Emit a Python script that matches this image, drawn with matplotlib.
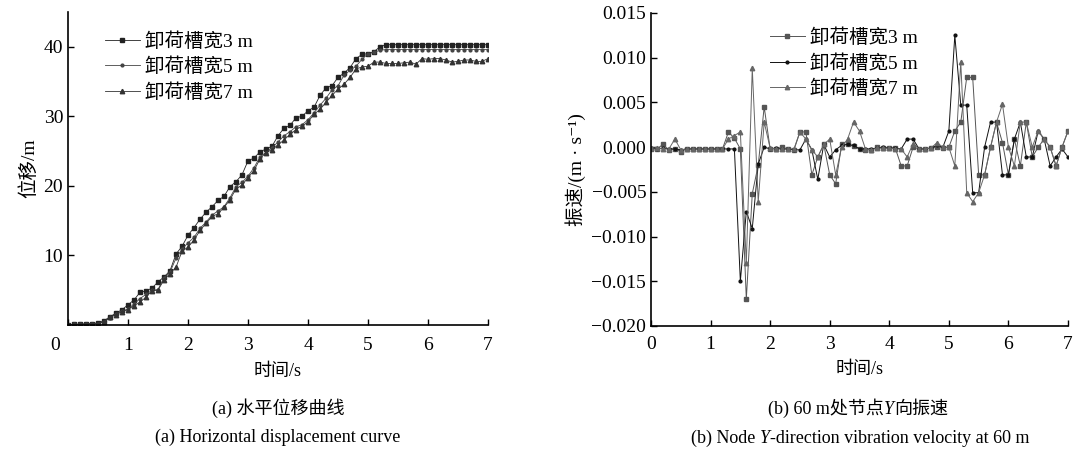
import numpy as np
import matplotlib
matplotlib.use("Agg")
import matplotlib.pyplot as plt
from matplotlib.ticker import FuncFormatter

plt.rcParams['font.family'] = ['Liberation Serif', 'DejaVu Serif', 'Noto Sans CJK SC']
plt.rcParams['axes.unicode_minus'] = True

# time axis, 0.1 s step
t = np.round(np.arange(71) * 0.1, 1)
labels = ['卸荷槽宽3 m', '卸荷槽宽5 m', '卸荷槽宽7 m']

# (a) horizontal displacement, m
disp_3 = [0.0, 0.1, 0.1, 0.2, 0.2, 0.3, 0.6, 1.2, 1.7, 2.2,
          2.9, 3.6, 4.7, 4.9, 5.3, 6.2, 6.9, 7.8, 10.2, 11.3,
          12.9, 14.0, 15.2, 16.2, 17.0, 17.9, 18.5, 19.9, 20.6, 21.6,
          23.6, 24.0, 24.9, 25.3, 25.7, 27.2, 28.3, 28.7, 29.8, 30.0,
          30.8, 31.3, 33.0, 34.1, 34.4, 35.6, 36.2, 37.0, 38.3, 38.9,
          39.0, 39.3, 40.0, 40.3, 40.3, 40.3, 40.3, 40.3, 40.3, 40.3,
          40.3, 40.3, 40.3, 40.3, 40.3, 40.3, 40.3, 40.3, 40.3, 40.3,
          40.3]
disp_5 = [0.0, 0.1, 0.1, 0.1, 0.2, 0.2, 0.5, 1.0, 1.6, 2.0,
          2.3, 3.0, 3.8, 4.4, 5.0, 5.1, 6.8, 7.6, 9.6, 10.9,
          11.8, 12.6, 13.9, 14.8, 15.8, 16.4, 17.0, 18.3, 19.9, 20.5,
          21.4, 22.6, 24.2, 24.8, 25.5, 26.3, 27.2, 27.8, 28.5, 28.8,
          29.5, 30.5, 31.6, 32.6, 33.8, 34.4, 35.9, 36.6, 37.2, 38.2,
          39.0, 39.2, 39.5, 39.6, 39.6, 39.6, 39.6, 39.6, 39.6, 39.6,
          39.6, 39.6, 39.6, 39.6, 39.6, 39.6, 39.6, 39.6, 39.6, 39.6,
          39.6]
disp_7 = [0.0, 0.1, 0.1, 0.1, 0.2, 0.2, 0.5, 1.1, 1.5, 1.9,
          2.2, 2.8, 3.3, 4.0, 4.9, 5.0, 6.5, 7.4, 8.3, 10.6,
          11.2, 12.2, 13.6, 14.6, 15.6, 16.0, 16.9, 18.0, 19.6, 20.1,
          21.2, 22.2, 23.9, 24.8, 25.2, 25.9, 26.6, 27.4, 28.1, 28.6,
          29.2, 30.3, 31.0, 32.0, 33.0, 33.9, 34.6, 35.6, 36.8, 37.1,
          37.2, 37.8, 37.8, 37.6, 37.6, 37.6, 37.7, 37.8, 37.5, 38.3,
          38.2, 38.3, 38.3, 38.1, 37.8, 37.9, 38.1, 38.1, 37.9, 37.9,
          38.3]

# (b) Y-direction vibration velocity, m/s
vel_3 = [-0.0002, -0.0002, 0.0003, -0.0003, -0.0002, -0.0005, -0.0002, -0.0002, -0.0002, -0.0002,
         -0.0002, -0.0002, -0.0002, 0.0017, 0.0010, -0.0002, -0.0170, -0.0052, -0.0020, 0.0045,
         -0.0002, -0.0002, 0.0000, -0.0002, -0.0003, 0.0017, 0.0017, -0.0031, -0.0011, 0.0003,
         -0.0031, -0.0041, 0.0003, 0.0003, 0.0001, -0.0002, -0.0003, -0.0003, 0.0000, -0.0001,
         -0.0001, -0.0001, -0.0021, -0.0021, 0.0000, -0.0002, -0.0002, -0.0001, 0.0000, -0.0001,
         0.0000, 0.0018, 0.0028, 0.0078, 0.0078, -0.0031, -0.0031, 0.0000, 0.0028, 0.0005,
         -0.0031, 0.0009, -0.0021, 0.0028, -0.0011, 0.0000, 0.0009, 0.0000, -0.0021, 0.0000,
         0.0018]
vel_5 = [-0.0001, -0.0002, -0.0001, -0.0002, -0.0002, -0.0003, -0.0002, -0.0002, -0.0002, -0.0002,
         -0.0002, -0.0002, -0.0002, -0.0002, -0.0002, -0.0150, -0.0072, -0.0091, -0.0019, 0.0000,
         -0.0002, -0.0001, -0.0002, -0.0002, -0.0003, -0.0003, 0.0009, -0.0003, -0.0036, 0.0003,
         -0.0011, -0.0003, 0.0002, 0.0003, 0.0002, -0.0002, -0.0002, -0.0002, -0.0001, 0.0000,
         -0.0001, -0.0001, -0.0002, 0.0009, 0.0009, -0.0002, -0.0002, -0.0001, 0.0002, 0.0000,
         0.0018, 0.0125, 0.0047, 0.0047, -0.0051, -0.0051, 0.0000, 0.0028, 0.0028, -0.0031,
         -0.0031, 0.0009, 0.0028, -0.0011, -0.0011, 0.0018, 0.0009, -0.0021, -0.0011, -0.0002,
         -0.0011]
vel_7 = [-0.0001, -0.0001, -0.0002, -0.0002, 0.0009, -0.0003, -0.0002, -0.0002, -0.0002, -0.0002,
         -0.0002, -0.0002, -0.0002, 0.0009, 0.0013, 0.0017, -0.0130, 0.0088, -0.0061, 0.0028,
         -0.0001, -0.0002, -0.0002, -0.0002, -0.0002, 0.0017, 0.0009, -0.0003, -0.0011, 0.0003,
         0.0009, -0.0031, 0.0000, 0.0009, 0.0028, 0.0018, -0.0002, -0.0003, -0.0001, -0.0001,
         -0.0001, -0.0002, -0.0002, -0.0011, 0.0004, -0.0002, -0.0002, -0.0001, 0.0005, 0.0000,
         0.0000, -0.0021, 0.0095, -0.0051, -0.0061, -0.0051, -0.0031, 0.0000, 0.0028, 0.0048,
         0.0000, -0.0021, 0.0028, 0.0028, 0.0000, 0.0018, 0.0009, 0.0000, -0.0021, 0.0000,
         0.0018]

markers = ['s', 'o', '^']
msizes = [2.6, 2.0, 3.2]


def style_axes(ax):
    for side in ['top', 'right']:
        ax.spines[side].set_visible(False)
    for side in ['left', 'bottom']:
        ax.spines[side].set_linewidth(1.2)
    ax.tick_params(direction='in', length=4, width=1.0, labelsize=14)
    ax.set_xlim(0, 7)
    ax.set_xticks(range(8))


def fmt_vel(v, pos):
    if abs(v) < 1e-9:
        return '0.000'
    return f'{v:.3f}'.replace('-', '\u2212')


def caption(xc, yc, parts, size=13):
    # pieces written one after another so that Y can be italic
    texts = [fig.text(0, 1 - yc / 457, parts[0][0], ha='left', va='baseline',
                      fontsize=size, style=parts[0][1])]
    for s, st in parts[1:]:
        texts.append(plt.annotate(s, xy=(1, 0), xycoords=texts[-1], ha='left', va='bottom',
                                  fontsize=size, style=st, annotation_clip=False))
    fig.canvas.draw()
    r = fig.canvas.get_renderer()
    x0 = texts[0].get_window_extent(r).x0
    x1 = texts[-1].get_window_extent(r).x1
    texts[0].set_x((x0 + xc - (x0 + x1) / 2) / fig.bbox.width)


fig = plt.figure(figsize=(10.78, 4.57), dpi=100)
leg_kw = dict(frameon=False, fontsize=14, handlelength=1.8, handletextpad=0.25,
              labelspacing=0.35, numpoints=1, borderaxespad=0, borderpad=0)

# (a)
ax1 = fig.add_axes([68 / 1078, 1 - 325 / 457, 420 / 1078, 313 / 457])
for y, lab, m, ms, c in zip([disp_3, disp_5, disp_7], labels, markers, msizes,
                            ['#222222', '#444444', '#333333']):
    ax1.plot(t, y, color=c, lw=0.6, marker=m, ms=ms, label=lab)
style_axes(ax1)
ax1.set_ylim(0, 45)
ax1.set_yticks([10, 20, 30, 40])
ax1.set_xticklabels([''] + [str(i) for i in range(1, 8)])
ax1.tick_params(axis='x', pad=9)
ax1.set_ylabel('位移/m', fontsize=14, labelpad=4)
ax1.set_xlabel('时间/s', fontsize=13, labelpad=6)
ax1.legend(loc='upper left', bbox_to_anchor=(0.088, 0.935), **leg_kw)
fig.text(55 / 1078, 1 - 345 / 457, '0', ha='center', va='center', fontsize=14)

# (b)
ax2 = fig.add_axes([651 / 1078, 1 - 326 / 457, 417 / 1078, 313 / 457])
for y, lab, m, ms, c in zip([vel_3, vel_5, vel_7], labels, markers, msizes,
                            ['#555555', '#111111', '#666666']):
    ax2.plot(t, y, color=c, lw=0.7, marker=m, ms=ms, label=lab)
style_axes(ax2)
ax2.set_ylim(-0.020, 0.015)
ax2.set_yticks(np.arange(-0.020, 0.0151, 0.005))
ax2.yaxis.set_major_formatter(FuncFormatter(fmt_vel))
ax2.tick_params(axis='x', pad=7)
ax2.set_ylabel('振速/(m · s\u207b\u00b9)', fontsize=14, labelpad=4)
ax2.set_xlabel('时间/s', fontsize=13, labelpad=6)
ax2.legend(loc='upper left', bbox_to_anchor=(0.285, 0.95), **leg_kw)

# captions
fig.text(278 / 1078, 1 - 408 / 457, '(a) 水平位移曲线', ha='center', va='center', fontsize=13)
fig.text(278 / 1078, 1 - 437 / 457, '(a) Horizontal displacement curve', ha='center', va='center',
         fontsize=13)
caption(858, 414, [('(b) 60 m处节点', 'normal'), ('Y', 'italic'), ('向振速', 'normal')])
caption(860, 443, [('(b) Node ', 'normal'), ('Y', 'italic'),
                   ('-direction vibration velocity at 60 m', 'normal')])

fig.savefig('out.png', dpi=100)
